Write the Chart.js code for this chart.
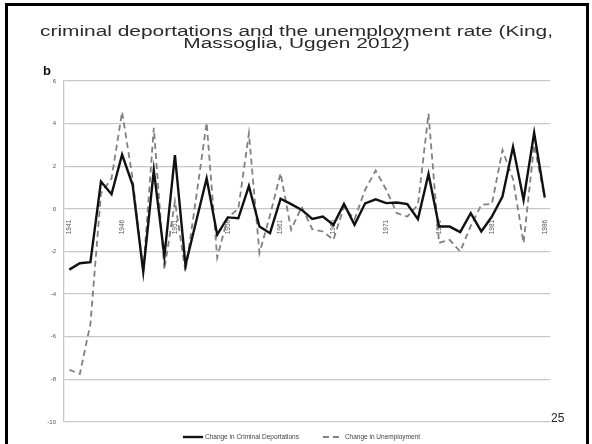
<!DOCTYPE html>
<html>
<head>
<meta charset="utf-8">
<script src="https://cdn.jsdelivr.net/npm/chart.js@4"></script>
<style>
  html, body { margin: 0; padding: 0; background: #fff; }
  #wrap { position: relative; width: 592px; height: 444px; }
</style>
</head>
<body>
<div id="wrap"><canvas id="chart" width="592" height="444"></canvas></div>
<script>
// yearly changes, 1941-1986
const years = [];
for (let y = 1941; y <= 1986; y++) years.push(String(y));

const deportChange = [
  -2.85, -2.55, -2.5, 1.28, 0.69, 2.55, 1.12, -2.95, 1.82, -2.23,
  2.52, -2.65, -0.6, 1.43, -1.21, -0.4, -0.44, 1.07, -0.83, -1.14,
  0.48, 0.22, -0.05, -0.47, -0.36, -0.75, 0.23, -0.75, 0.26, 0.45,
  0.27, 0.3, 0.22, -0.48, 1.64, -0.83, -0.83, -1.09, -0.2, -1.06,
  -0.36, 0.58, 2.91, 0.42, 3.57, 0.55
];

const unempChange = [
  -7.55, -7.75, -5.4, 0.73, 1.43, 4.55, 1.4, -2.95, 3.8, -2.85,
  0.35, -2.95, 0.5, 4.05, -2.29, -0.4, 0.0, 3.54, -2.07, -0.3,
  1.67, -0.98, 0.1, -0.95, -1.06, -1.45, 0.1, -0.5, 0.9, 1.8,
  0.9, -0.2, -0.36, 0.19, 4.47, -1.6, -1.45, -2.0, -0.8, 0.19,
  0.23, 2.76, 1.4, -1.6, 3.0, 0.5
];

const seriesNames = ['Change in Criminal Deportations', 'Change in Unemployment'];
const titleLines = ['criminal deportations and the unemployment rate (King,', 'Massoglia, Uggen 2012)'];
const panelLabel = 'b';
const pageNumber = '25';

// slide frame, heading, page number and the legend under the plot
const slideDecor = {
  id: 'slideDecor',
  beforeDraw(chart) {
    const ctx = chart.ctx;
    ctx.save();
    ctx.fillStyle = '#fff';
    ctx.fillRect(0, 0, chart.width, chart.height);
    ctx.strokeStyle = '#000';
    ctx.lineWidth = 3;
    ctx.strokeRect(6.5, 4.5, 581, 460);
    ctx.restore();
  },
  afterDraw(chart) {
    const ctx = chart.ctx;
    ctx.save();

    // heading, stretched to the slide's text width
    ctx.fillStyle = '#2a2a2a';
    ctx.font = '14px "Liberation Sans", Arial, sans-serif';
    ctx.textBaseline = 'alphabetic';
    ctx.textAlign = 'center';
    const sx = 513 / ctx.measureText(titleLines[0]).width;
    [35.5, 48].forEach((y, i) => {
      ctx.save();
      ctx.translate(296.5, y);
      ctx.scale(sx, 1);
      ctx.fillText(titleLines[i], 0, 0);
      ctx.restore();
    });

    ctx.font = 'bold 13px "Liberation Sans", Arial, sans-serif';
    ctx.textAlign = 'left';
    ctx.fillStyle = '#111';
    ctx.fillText(panelLabel, 43, 75);

    ctx.font = '12px "Liberation Sans", Arial, sans-serif';
    ctx.fillStyle = '#222';
    ctx.fillText(pageNumber, 551, 422);

    // legend
    ctx.font = '6.5px "Liberation Sans", Arial, sans-serif';
    ctx.textBaseline = 'middle';
    const sample = 20, gapText = 2, gapItem = 24, ly = 437;
    const ds = chart.data.datasets;
    const widths = ds.map(d => sample + gapText + ctx.measureText(d.label).width);
    const total = widths.reduce((a, b) => a + b, 0) + gapItem * (ds.length - 1);
    let x = 301.5 - total / 2;
    ds.forEach((d, i) => {
      ctx.beginPath();
      ctx.strokeStyle = d.borderColor;
      ctx.lineWidth = d.borderWidth;
      ctx.setLineDash(d.borderDash || []);
      ctx.moveTo(x, ly);
      ctx.lineTo(x + sample, ly);
      ctx.stroke();
      ctx.setLineDash([]);
      ctx.fillStyle = '#404040';
      ctx.fillText(d.label, x + sample + gapText, ly);
      x += widths[i] + gapItem;
    });
    ctx.restore();
  }
};

new Chart(document.getElementById('chart'), {
  type: 'line',
  data: {
    labels: years,
    datasets: [
      {
        label: seriesNames[0],
        data: deportChange,
        borderColor: '#111',
        borderWidth: 2.4,
        pointRadius: 0,
        tension: 0,
        fill: false
      },
      {
        label: seriesNames[1],
        data: unempChange,
        borderColor: '#808080',
        borderWidth: 1.8,
        borderDash: [6, 4],
        pointRadius: 0,
        tension: 0,
        fill: false
      }
    ]
  },
  options: {
    responsive: false,
    animation: false,
    layout: { padding: { top: 81, right: 42, bottom: 22, left: 0 } },
    plugins: {
      legend: { display: false },
      tooltip: { enabled: false }
    },
    scales: {
      x: {
        type: 'category',
        offset: true,
        position: { y: 0 },
        grid: { display: false },
        border: { display: false },
        ticks: {
          autoSkip: false,
          minRotation: 90,
          maxRotation: 90,
          padding: 3,
          color: '#555',
          font: { size: 6.5, family: '"Liberation Sans", Arial, sans-serif' },
          callback: function (val, idx) {
            return idx % 5 === 0 ? this.getLabelForValue(val) : '';
          }
        }
      },
      y: {
        min: -10,
        max: 6,
        ticks: {
          stepSize: 2,
          padding: 8,
          color: '#555',
          font: { size: 6, family: '"Liberation Sans", Arial, sans-serif' }
        },
        grid: { color: '#c8c8c8', lineWidth: 1.3, drawTicks: false },
        border: { color: '#c8c8c8', width: 1.3 },
        afterFit(scale) { scale.width = 64; }
      }
    }
  },
  plugins: [slideDecor]
});
</script>
</body>
</html>
